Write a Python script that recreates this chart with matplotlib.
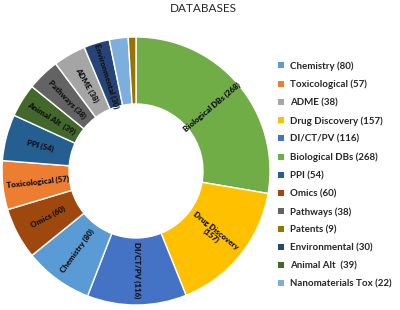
import numpy as np
import matplotlib
matplotlib.use("Agg")
import matplotlib.pyplot as plt
from matplotlib.patches import Patch

# Slices in drawing order (clockwise from 12 o'clock)
slice_names = ["Biological DBs", "Drug Discovery", "DI/CT/PV", "Chemistry", "Omics",
               "Toxicological", "PPI", "Animal Alt", "Pathways", "ADME",
               "Environmental", "Nanomaterials Tox", "Patents"]
slice_values = [268, 157, 116, 80, 60, 57, 54, 39, 38, 38, 30, 22, 9]
slice_labels = ["Biological DBs (268)", "Drug Discovery\n(157)", "DI/CT/PV (116)",
                "Chemistry (80)", "Omics (60)", "Toxicological (57)", "PPI (54)",
                "Animal Alt  (39)", "Pathways (38)", "ADME (38)", "Environmental (30)",
                "", ""]
slice_colors = ["#70AD47", "#FFC000", "#4472C4", "#5B9BD5", "#9E480E", "#ED7D31",
                "#255E91", "#43682B", "#636363", "#A5A5A5", "#264478", "#7CAFDD",
                "#997300"]

# Legend order
legend_names = ["Chemistry", "Toxicological", "ADME", "Drug Discovery", "DI/CT/PV",
                "Biological DBs", "PPI", "Omics", "Pathways", "Patents",
                "Environmental", "Animal Alt", "Nanomaterials Tox"]
legend_labels = ["Chemistry (80)", "Toxicological (57)", "ADME (38)",
                 "Drug Discovery (157)", "DI/CT/PV (116)", "Biological DBs (268)",
                 "PPI (54)", "Omics (60)", "Pathways (38)", "Patents (9)",
                 "Environmental (30)", "Animal Alt  (39)", "Nanomaterials Tox (22)"]

title = "DATABASES"

plt.rcParams['font.family'] = ['Lato', 'DejaVu Sans']

fig = plt.figure(figsize=(4.0, 3.1), dpi=100)
cx, cy, R = 136, 171, 134
ax = fig.add_axes([(cx - R) / 400, (310 - cy - R) / 310, 2 * R / 400, 2 * R / 310])
wedges, _ = ax.pie(slice_values, colors=slice_colors, startangle=90, counterclock=False,
                   radius=1.0, wedgeprops=dict(width=0.5, edgecolor="white", linewidth=1.0))
ax.set_xlim(-1, 1)
ax.set_ylim(-1, 1)
ax.set_aspect("equal")
ax.axis("off")

for w, lab in zip(wedges, slice_labels):
    if not lab:
        continue
    mid = (w.theta1 + w.theta2) / 2.0
    rad = np.deg2rad(mid)
    r = 0.74
    rot = mid
    while rot > 90:
        rot -= 180
    while rot < -90:
        rot += 180
    ax.text(r * np.cos(rad), r * np.sin(rad), lab, rotation=rot, rotation_mode="anchor",
            ha="center", va="center", fontsize=5.7, fontweight="heavy", color="#111111",
            linespacing=1.0)

fig.text(203 / 400, 1 - 8 / 310, title, ha="center", va="center", fontsize=8.5, color="#262626")

color_map = dict(zip(slice_names, slice_colors))
handles = [Patch(facecolor=color_map[n], edgecolor="none") for n in legend_names]
fig.legend(handles, legend_labels, loc="upper left", bbox_to_anchor=(278 / 400, 1 - 61 / 310),
           frameon=False, prop=dict(weight="bold", size=7),
           handlelength=0.6, handleheight=0.6, handletextpad=0.6, labelspacing=0.92,
           borderaxespad=0, borderpad=0, labelcolor="#262626")

fig.savefig("out.png", dpi=100)
